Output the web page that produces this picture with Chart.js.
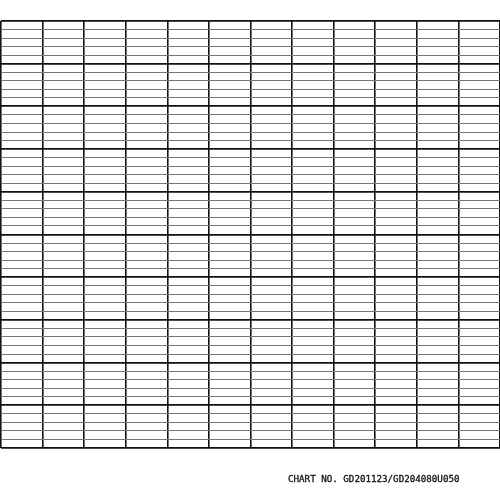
<!DOCTYPE html>
<html><head><meta charset="utf-8">
<script src="https://cdn.jsdelivr.net/npm/chart.js@4"></script>
<style>html,body{margin:0;padding:0;background:#fff;width:500px;height:500px;overflow:hidden}
#wrap{position:absolute;left:0;top:0;width:500px;height:500px}
#lbl{position:absolute;left:288px;top:473px;font:9.2px "DejaVu Sans Mono",monospace;color:#111;-webkit-text-stroke:0.3px #111;white-space:nowrap}</style>
</head><body>
<div id="wrap"><canvas id="c" width="500" height="500"></canvas></div>
<div id="lbl">CHART NO. GD201123/GD204080U050</div>
<script>
const xDivisions = [0,1,2,3,4,5,6,7,8,9,10,11,12];
const yDivisions = Array.from({length:51},(_, i)=>i);
const majorEvery = 5;
new Chart(document.getElementById('c'),{
 type:'line',
 data:{datasets:[{data:[],showLine:false}]},
 options:{
  responsive:false,animation:false,
  layout:{padding:{top:21,bottom:52,left:1,right:0}},
  plugins:{legend:{display:false},tooltip:{enabled:false}},
  scales:{
   x:{type:'linear',min:0,max:12,
      afterBuildTicks:a=>{a.ticks=xDivisions.map(v=>({value:v}))},
      ticks:{display:false},border:{display:false},
      grid:{drawTicks:false,color:'#111',lineWidth:1.6}},
   y:{type:'linear',min:0,max:50,
      afterBuildTicks:a=>{a.ticks=yDivisions.map(v=>({value:v}))},
      ticks:{display:false},border:{display:false},
      grid:{drawTicks:false,
        color:c=>c.tick.value%majorEvery===0?'#111':'#777',
        lineWidth:c=>c.tick.value%majorEvery===0?1.8:1}}
  }
 }
});
</script>
</body></html>
